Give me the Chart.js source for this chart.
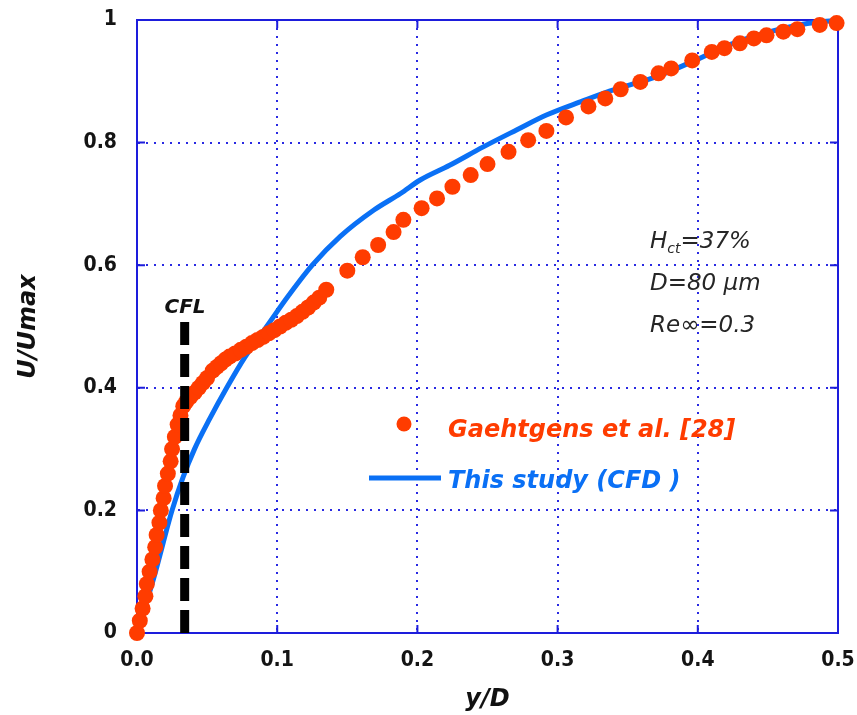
<!DOCTYPE html>
<html lang="en">
<head>
<meta charset="UTF-8">
<title>U/Umax vs y/D</title>
<script src="https://cdn.jsdelivr.net/npm/chart.js@4"></script>
<style>
  body { margin: 0; background: #fff; }
  canvas { display: block; }
</style>
</head>
<body>
<canvas id="chart" width="857" height="715"></canvas>
<script>
// Gaehtgens et al. [28] - experiment points (y/D, U/Umax)
const gaehX = [0.000, 0.002, 0.004, 0.006, 0.007, 0.009, 0.011, 0.013, 0.014, 0.016,
  0.017, 0.019, 0.020, 0.022, 0.024, 0.025, 0.027, 0.029, 0.031, 0.033,
  0.035, 0.038, 0.041, 0.044, 0.047, 0.050, 0.054, 0.057, 0.060, 0.063,
  0.066, 0.070, 0.074, 0.078, 0.082, 0.086, 0.090, 0.094, 0.098, 0.102,
  0.106, 0.110, 0.114, 0.118, 0.122, 0.126, 0.130, 0.135, 0.150,
  0.161, 0.172, 0.183, 0.190, 0.203, 0.214, 0.225, 0.238, 0.250, 0.265,
  0.279, 0.292, 0.306, 0.322, 0.334, 0.345, 0.359, 0.372, 0.381, 0.396,
  0.410, 0.419, 0.430, 0.440, 0.449, 0.461, 0.471, 0.487, 0.499];
const gaehY = [0.000, 0.020, 0.040, 0.060, 0.080, 0.100, 0.120, 0.140, 0.160, 0.180,
  0.200, 0.220, 0.240, 0.260, 0.280, 0.300, 0.320, 0.340, 0.355, 0.370,
  0.377, 0.385, 0.392, 0.400, 0.408, 0.416, 0.428, 0.434, 0.440, 0.446,
  0.451, 0.456, 0.462, 0.467, 0.473, 0.478, 0.483, 0.489, 0.494, 0.500,
  0.506, 0.511, 0.517, 0.524, 0.531, 0.539, 0.547, 0.560, 0.591,
  0.613, 0.633, 0.654, 0.674, 0.693, 0.709, 0.728, 0.747, 0.765, 0.785,
  0.804, 0.819, 0.841, 0.859, 0.872, 0.887, 0.899, 0.913, 0.921, 0.934,
  0.948, 0.954, 0.962, 0.970, 0.975, 0.981, 0.985, 0.992, 0.995];

// This study (CFD)
const cfdX = [0.000, 0.012, 0.025, 0.033, 0.041, 0.052, 0.064, 0.077, 0.0925, 0.108,
  0.125, 0.145, 0.169, 0.188, 0.202, 0.223, 0.247, 0.271, 0.292, 0.318,
  0.337, 0.371, 0.399, 0.423, 0.447, 0.475, 0.500];
const cfdY = [0.000, 0.090, 0.200, 0.255, 0.300, 0.350, 0.400, 0.450, 0.500, 0.550,
  0.600, 0.647, 0.690, 0.717, 0.739, 0.763, 0.793, 0.821, 0.845, 0.868,
  0.884, 0.908, 0.935, 0.960, 0.978, 0.993, 1.000];

// CFL marker line
const cflX = [0.034, 0.034];
const cflY = [0, 0.51];

const xTicks = [0, 0.1, 0.2, 0.3, 0.4, 0.5];
const yTicks = [0, 0.2, 0.4, 0.6, 0.8, 1];

const notes = ['=37%', 'D=80 μm', 'Re∞=0.3'];

const RED = '#ff3c00';
const BLUE = '#0a70f5';
const FRAME = '#1d1ddc';
const GRID = '#2a2ae2';
const FONT = '"DejaVu Sans", Verdana, sans-serif';
const TICK_FONT = '"DejaVu Sans Condensed", "DejaVu Sans", sans-serif';

function toPts(xs, ys) {
  return xs.map((v, i) => ({ x: v, y: ys[i] }));
}

// frame, tick stubs, legend and text notes
const extras = {
  id: 'extras',
  beforeDatasetsDraw(chart) {
    const { ctx, chartArea: a, scales: { x, y } } = chart;
    ctx.save();
    ctx.strokeStyle = FRAME;
    ctx.lineWidth = 2;
    ctx.strokeRect(a.left, a.top, a.right - a.left, a.bottom - a.top);
    ctx.beginPath();
    xTicks.forEach(v => {
      const px = x.getPixelForValue(v);
      ctx.moveTo(px, a.bottom); ctx.lineTo(px, a.bottom - 8);
      ctx.moveTo(px, a.top); ctx.lineTo(px, a.top + 8);
    });
    yTicks.forEach(v => {
      const py = y.getPixelForValue(v);
      ctx.moveTo(a.left, py); ctx.lineTo(a.left + 8, py);
      ctx.moveTo(a.right, py); ctx.lineTo(a.right - 8, py);
    });
    ctx.stroke();
    ctx.restore();
  },
  afterDraw(chart) {
    const { ctx } = chart;
    ctx.save();

    // CFL label
    ctx.fillStyle = '#111';
    ctx.font = 'italic bold 20px ' + FONT;
    ctx.textAlign = 'center';
    ctx.textBaseline = 'alphabetic';
    ctx.fillText('CFL', 185, 313);

    // notes on the right
    ctx.textAlign = 'left';
    ctx.fillStyle = '#262626';
    ctx.font = 'italic 23px ' + FONT;
    ctx.fillText('H', 650, 248);
    let w = ctx.measureText('H').width;
    ctx.font = 'italic 14px ' + FONT;
    ctx.fillText('ct', 650 + w, 253);
    const w2 = ctx.measureText('ct').width;
    ctx.font = 'italic 23px ' + FONT;
    ctx.fillText(notes[0], 650 + w + w2, 248);
    ctx.fillText(notes[1], 650, 290);
    ctx.fillText(notes[2], 650, 332);

    // legend
    ctx.fillStyle = RED;
    ctx.beginPath();
    ctx.arc(404, 424, 7.5, 0, Math.PI * 2);
    ctx.fill();
    ctx.font = 'italic bold 24px ' + FONT;
    ctx.fillText('Gaehtgens et al. [28]', 448, 437);

    ctx.strokeStyle = BLUE;
    ctx.lineWidth = 5;
    ctx.beginPath();
    ctx.moveTo(369, 478);
    ctx.lineTo(441, 478);
    ctx.stroke();
    ctx.fillStyle = BLUE;
    ctx.fillText('This study (CFD )', 448, 488);

    ctx.restore();
  }
};

new Chart(document.getElementById('chart'), {
  type: 'scatter',
  data: {
    datasets: [
      {
        label: 'CFL',
        data: toPts(cflX, cflY),
        showLine: true,
        borderColor: '#000',
        borderWidth: 9,
        borderDash: [23, 9],
        borderCapStyle: 'butt',
        pointRadius: 0,
        clip: false
      },
      {
        label: 'Gaehtgens et al. [28]',
        data: toPts(gaehX, gaehY),
        showLine: false,
        pointRadius: 8,
        pointBackgroundColor: RED,
        pointBorderWidth: 0,
        clip: false
      },
      {
        label: 'This study (CFD)',
        data: toPts(cfdX, cfdY),
        showLine: true,
        borderColor: BLUE,
        borderWidth: 5,
        pointRadius: 0,
        cubicInterpolationMode: 'monotone',
        clip: false
      }
    ]
  },
  options: {
    responsive: false,
    animation: false,
    devicePixelRatio: 1,
    layout: { padding: { left: 0, right: 19, top: 20, bottom: 0 } },
    plugins: { legend: { display: false }, tooltip: { enabled: false } },
    scales: {
      x: {
        type: 'linear',
        min: 0,
        max: 0.5,
        afterBuildTicks: s => { s.ticks = xTicks.map(v => ({ value: v })); },
        afterFit: s => { s.height = 82; s.paddingLeft = 0; s.paddingRight = 0; },
        ticks: {
          color: '#141414',
          font: { family: TICK_FONT, size: 21, weight: 'bold' },
          padding: 15,
          callback: v => v.toFixed(1)
        },
        grid: { color: GRID, lineWidth: 2, drawTicks: false },
        border: { color: FRAME, width: 2, dash: [2, 6] },
        title: {
          display: true,
          text: 'y/D',
          color: '#111',
          font: { family: FONT, size: 24, weight: 'bold', style: 'italic' },
          padding: { top: 0, bottom: 1 }
        }
      },
      y: {
        type: 'linear',
        min: 0,
        max: 1,
        afterBuildTicks: s => { s.ticks = yTicks.map(v => ({ value: v })); },
        afterFit: s => { s.width = 137; s.paddingTop = 0; s.paddingBottom = 0; },
        ticks: {
          color: '#141414',
          font: { family: TICK_FONT, size: 21, weight: 'bold' },
          padding: 20,
          callback: v => (v === 0 || v === 1) ? String(v) : v.toFixed(1)
        },
        grid: { color: GRID, lineWidth: 2, drawTicks: false },
        border: { color: FRAME, width: 2, dash: [2, 6] },
        title: {
          display: true,
          text: 'U/Umax',
          color: '#111',
          font: { family: FONT, size: 24, weight: 'bold', style: 'italic' },
          padding: { top: 14, bottom: 0 }
        }
      }
    }
  },
  plugins: [extras]
});
</script>
</body>
</html>
